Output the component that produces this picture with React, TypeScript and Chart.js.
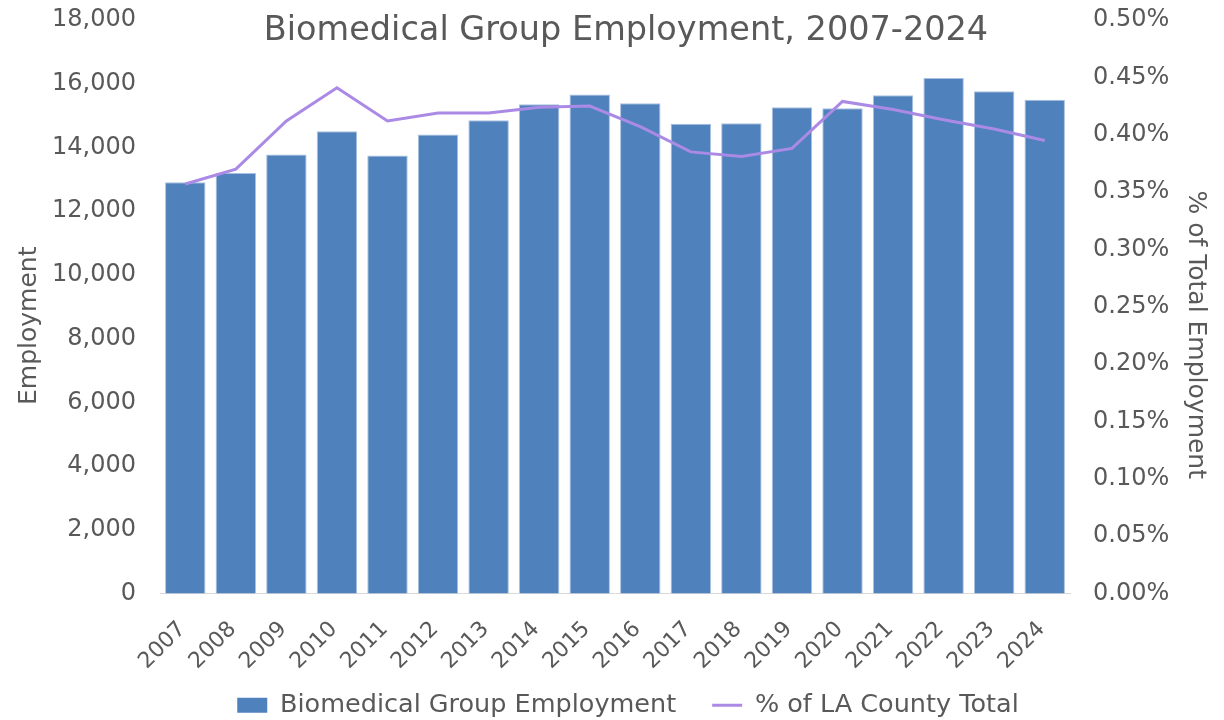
import React, { useEffect, useRef } from "react";
import { Chart, registerables } from "chart.js";

Chart.register(...registerables);

const TITLE = "Biomedical Group Employment, 2007-2024";
const YEARS = ["2007", "2008", "2009", "2010", "2011", "2012", "2013", "2014", "2015", "2016", "2017", "2018", "2019", "2020", "2021", "2022", "2023", "2024"];
const EMPLOYMENT = [12910, 13200, 13780, 14510, 13745, 14405, 14855, 15355, 15660, 15390, 14740, 14760, 15265, 15230, 15640, 16180, 15765, 15500];
const SHARE_PCT = [0.357, 0.370, 0.412, 0.441, 0.412, 0.419, 0.419, 0.424, 0.425, 0.407, 0.385, 0.381, 0.388, 0.429, 0.422, 0.413, 0.405, 0.395];
const BAR_LABEL = "Biomedical Group Employment";
const LINE_LABEL = "% of LA County Total";
const LEFT_TITLE = "Employment";
const RIGHT_TITLE = "% of Total Employment";

const FONT = "'DejaVu Sans', sans-serif";
const GRAY = "#595959";
const BAR_COLOR = "#4F81BD";
const LINE_COLOR = "#AB8AE6";

const titlePlugin = {
  id: "topTitle",
  afterLayout(chart: any) {
    // let rotated category labels extend below the axis box instead of being clipped
    const x = chart.scales.x;
    if (x) x.bottom = chart.height;
    // lower the vertical axis titles a little (the value mapping is already configured)
    const y = chart.scales.y;
    if (y) y.bottom = y.bottom + 38;
    const y1 = chart.scales.y1;
    if (y1) y1.bottom = y1.bottom + 56;
  },
  afterDraw(chart: any) {
    const ctx = chart.ctx;
    ctx.save();
    ctx.font = `normal 33.5px ${FONT}`;
    ctx.fillStyle = GRAY;
    ctx.textAlign = "center";
    ctx.textBaseline = "middle";
    ctx.fillText(TITLE, 626, 31);
    ctx.restore();
  },
};

export default function App() {
  const ref = useRef<HTMLCanvasElement>(null);
  useEffect(() => {
    if (!ref.current) return;
    const chart = new Chart(ref.current, {
      type: "bar",
      plugins: [titlePlugin],
      data: {
        labels: YEARS,
        datasets: [
          {
            type: "bar",
            label: BAR_LABEL,
            data: EMPLOYMENT,
            backgroundColor: BAR_COLOR,
            borderColor: "#A9C1DF",
            borderWidth: 1,
            barPercentage: 0.8,
            categoryPercentage: 1,
            yAxisID: "y",
            order: 1,
          },
          {
            type: "line",
            label: LINE_LABEL,
            data: SHARE_PCT,
            borderColor: LINE_COLOR,
            backgroundColor: LINE_COLOR,
            borderWidth: 3,
            pointRadius: 0,
            tension: 0,
            yAxisID: "y1",
            order: 0,
          },
        ],
      },
      options: {
        responsive: false,
        animation: false,
        layout: { padding: { top: 20, bottom: -8, left: 32, right: 0 } },
        plugins: {
          tooltip: { enabled: false },
          title: { display: false },
          legend: {
            position: "bottom",
            labels: {
              color: GRAY,
              font: { family: FONT, size: 25.5 },
              usePointStyle: true,
              pointStyleWidth: 30,
              boxHeight: 15,
              padding: 36,
              sort: (a: any, b: any) => a.datasetIndex - b.datasetIndex,
              generateLabels: (c: any) => {
                const items = Chart.defaults.plugins.legend.labels.generateLabels(c);
                return items.map((it: any) => {
                  if (it.datasetIndex === 0) {
                    return { ...it, pointStyle: "rect", fillStyle: BAR_COLOR, strokeStyle: BAR_COLOR, lineWidth: 0 };
                  }
                  return { ...it, pointStyle: "line", strokeStyle: LINE_COLOR, fillStyle: LINE_COLOR, lineWidth: 3 };
                });
              },
            },
          },
        },
        scales: {
          x: {
            grid: { display: false, drawTicks: false },
            border: { display: true, color: "#D9D9D9", width: 1 },
            ticks: {
              color: GRAY,
              font: { family: FONT, size: 22 },
              minRotation: 45,
              maxRotation: 45,
              autoSkip: false,
              padding: 23,
              labelOffset: -3,
            },
            afterFit: (s: any) => {
              s.height = 63;
            },
          },
          y: {
            position: "left",
            min: 0,
            max: 18000,
            grid: { display: false, drawTicks: true, tickLength: 24 },
            border: { display: false },
            ticks: {
              stepSize: 2000,
              color: GRAY,
              font: { family: FONT, size: 24 },
              padding: 0,
              callback: (v: any) => Number(v).toLocaleString("en-US"),
            },
            title: {
              display: true,
              text: LEFT_TITLE,
              color: GRAY,
              font: { family: FONT, size: 25 },
              padding: { top: -18, bottom: 0 },
            },
            afterFit: (s: any) => {
              s.width = 128;
            },
          },
          y1: {
            position: "right",
            min: 0,
            max: 0.5,
            grid: { display: false, drawTicks: true, tickLength: 23 },
            border: { display: false },
            ticks: {
              stepSize: 0.05,
              color: GRAY,
              font: { family: FONT, size: 24 },
              padding: 0,
              callback: (v: any) => Number(v).toFixed(2) + "%",
            },
            title: {
              display: true,
              text: RIGHT_TITLE,
              color: GRAY,
              font: { family: FONT, size: 25 },
              padding: { top: 14, bottom: 0 },
            },
            afterFit: (s: any) => {
              s.width = 154;
            },
          },
        },
      },
    });
    return () => chart.destroy();
  }, []);
  return (
    <div style={{ position: "absolute", left: 0, top: 0, width: 1224, height: 720, background: "#fff" }}>
      <canvas ref={ref} width={1224} height={720} />
    </div>
  );
}
